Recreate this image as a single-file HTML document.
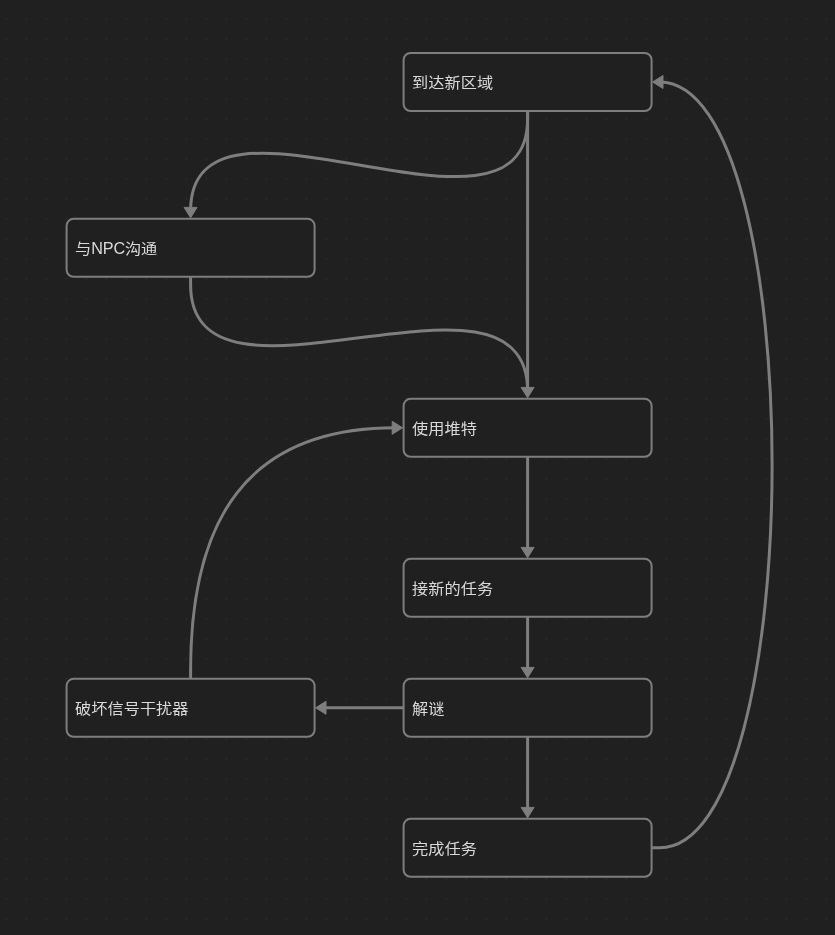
<!DOCTYPE html>
<html lang="zh-CN">
<head>
<meta charset="utf-8">
<title>Canvas</title>
<style>
  html, body { margin: 0; padding: 0; }
  body {
    width: 835px; height: 935px; overflow: hidden; position: relative;
    background: #202020;
    font-family: "Liberation Sans", "Noto Sans CJK SC", sans-serif;
    color: #dadada;
  }
  svg.layer { position: absolute; left: 0; top: 0; width: 835px; height: 935px; display: block; }
  #labels { position: absolute; left: 0; top: 0; width: 835px; height: 935px; will-change: transform; }
  .label {
    position: absolute; box-sizing: border-box;
    width: 250px; height: 60px;
    font-size: 16px; line-height: 24px;
    padding: 19px 0 0 9px;
    white-space: nowrap;
    transform: translateY(0.8px) scale(1.012, 0.9); transform-origin: 0 30.8px;
  }
  .lat { display: inline-block; transform: scaleY(1.1); transform-origin: 50% 76%; letter-spacing: -0.2px; }
  .edge { fill: none; stroke: #7e7e7e; stroke-width: 3; stroke-linecap: round; }
  .arrow { fill: #7e7e7e; stroke: #7e7e7e; stroke-width: 1; stroke-linejoin: round; }
  .box { fill: #202020; stroke: #7e7e7e; stroke-width: 2; }
</style>
</head>
<body>
<svg class="layer" width="835" height="935" viewBox="0 0 835 935">
  <defs>
    <pattern id="dots" x="5.7" y="18" width="20" height="20" patternUnits="userSpaceOnUse">
      <circle cx="0.7" cy="0.7" r="0.7" fill="#363636"/>
    </pattern>
  </defs>
  <rect x="0" y="0" width="835" height="935" fill="url(#dots)"/>

  <!-- edges -->
  <g class="edge">
    <path d="M527.6,112 L527.6,119 C527.6,269 190.6,60.8 190.6,210.8"/>
    <path d="M190.6,277.8 L190.6,284.8 C190.6,434.8 527.6,240.8 527.6,390.8"/>
    <path d="M527.6,112 L527.6,390.8"/>
    <path d="M527.6,457.8 L527.6,550.8"/>
    <path d="M527.6,617.8 L527.6,670.8"/>
    <path d="M527.6,737.8 L527.6,810.8"/>
    <path d="M402.6,707.8 L322.6,707.8"/>
    <path d="M190.6,677.8 L190.6,670.8 C190.6,520.8 245.6,427.8 395.6,427.8"/>
    <path d="M652.6,847.8 L659.6,847.8 C809.6,847.8 809.6,82 659.6,82"/>
  </g>
  <g class="arrow">
    <polygon points="0,0 6.5,10.4 -6.5,10.4" transform="translate(190.6,217.8) rotate(180)"/>
    <polygon points="0,0 6.5,10.4 -6.5,10.4" transform="translate(527.6,397.8) rotate(180)"/>
    <polygon points="0,0 6.5,10.4 -6.5,10.4" transform="translate(527.6,557.8) rotate(180)"/>
    <polygon points="0,0 6.5,10.4 -6.5,10.4" transform="translate(527.6,677.8) rotate(180)"/>
    <polygon points="0,0 6.5,10.4 -6.5,10.4" transform="translate(527.6,817.8) rotate(180)"/>
    <polygon points="0,0 6.5,10.4 -6.5,10.4" transform="translate(315.6,707.8) rotate(-90)"/>
    <polygon points="0,0 6.5,10.4 -6.5,10.4" transform="translate(402.6,427.8) rotate(90)"/>
    <polygon points="0,0 6.5,10.4 -6.5,10.4" transform="translate(652.6,82) rotate(-90)"/>
  </g>

  <!-- node boxes -->
  <g class="box">
    <rect x="403.6" y="53.0" width="248" height="58" rx="7" ry="7"/>
    <rect x="66.6" y="218.8" width="248" height="58" rx="7" ry="7"/>
    <rect x="403.6" y="398.8" width="248" height="58" rx="7" ry="7"/>
    <rect x="403.6" y="558.8" width="248" height="58" rx="7" ry="7"/>
    <rect x="403.6" y="678.8" width="248" height="58" rx="7" ry="7"/>
    <rect x="66.6" y="678.8" width="248" height="58" rx="7" ry="7"/>
    <rect x="403.6" y="818.8" width="248" height="58" rx="7" ry="7"/>
  </g>
</svg>

<div id="labels">
<div class="label" style="left:402.5px; top:52px;">到达新区域</div>
<div class="label" style="left:65.5px; top:218px;">与<span class="lat">NPC</span>沟通</div>
<div class="label" style="left:402.5px; top:398px;">使用堆特</div>
<div class="label" style="left:402.5px; top:558px;">接新的任务</div>
<div class="label" style="left:402.5px; top:678px;">解谜</div>
<div class="label" style="left:65.5px; top:678px;">破坏信号干扰器</div>
<div class="label" style="left:402.5px; top:818px;">完成任务</div>
</div>
</body>
</html>
